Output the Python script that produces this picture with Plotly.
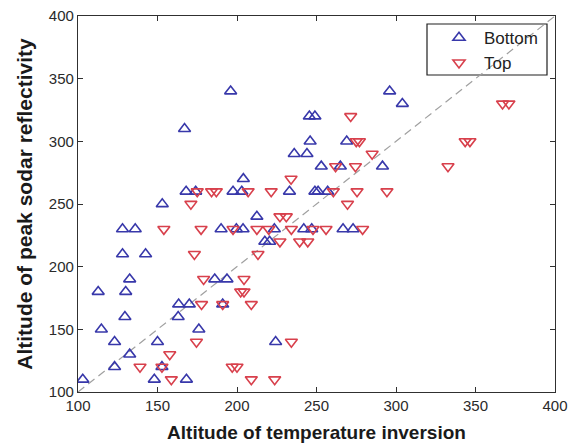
import plotly.graph_objects as go

# Bottom (blue, up-triangles)
bottom_x = [196, 296, 304, 245.5, 249, 167, 246, 269, 236, 244,
            253, 265, 291.5, 204, 168, 174, 197.5, 203, 233, 249,
            251, 257, 153, 212.5, 128, 136, 190, 199.6, 203.8, 223.5,
            242, 247, 266.7, 273, 217.5, 220.5, 128, 142.5, 132.5, 186,
            193.7, 112.7, 130, 163.3, 170, 191, 129.5, 163, 114.7, 176,
            123, 150, 224.3, 132.5, 123, 152.8, 103, 148, 168.2]
bottom_y = [340, 340, 330, 320, 320, 310, 300, 300, 290, 290,
            280, 280, 280, 270, 260, 260, 260, 260, 260, 260,
            260, 260, 250, 240, 230, 230, 230, 230, 230, 230,
            230, 230, 230, 230, 220, 220, 210, 210, 190, 190,
            190, 180, 180, 170, 170, 170, 160, 160, 150, 150,
            140, 140, 140, 130, 120, 120, 110, 110, 110]

# Top (red, down-triangles)
top_x = [367, 371, 271.5, 275, 277, 343.5, 346.5, 285, 262, 274.5,
         332.7, 234, 175, 184, 187, 207, 221.5, 260.6, 275.5, 294.3,
         171, 269.5, 227, 231, 154, 177.4, 197.5, 212.5, 220, 234.2,
         247.8, 256, 279, 227, 239.4, 244.5, 173.2, 213.2, 179, 204.4,
         202.3, 204.4, 177.7, 191, 209, 174.5, 234.2, 157.7, 139, 152.8,
         197, 200, 158.7, 209, 223.7]
top_y = [330, 330, 320, 300, 300, 300, 300, 290, 280, 280,
         280, 270, 260, 260, 260, 260, 260, 260, 260, 260,
         250, 250, 240, 240, 230, 230, 230, 230, 230, 230,
         230, 230, 230, 220, 220, 220, 210, 210, 190, 190,
         180, 180, 170, 170, 170, 140, 140, 130, 120, 120,
         120, 120, 110, 110, 110]

axis_range = [100, 400]
tick_vals = [100, 150, 200, 250, 300, 350, 400]

W, H = 571, 445
L, R, T, B = 78, 16, 16, 53
pw, ph = W - L - R, H - T - B

def px_to_paper(x, y):
    return (x - L) / pw, (H - B - y) / ph

fig = go.Figure()
fig.add_trace(go.Scatter(x=axis_range, y=axis_range, mode="lines",
                         line=dict(color="#a0a0a0", width=1.2, dash="8px,5px"),
                         showlegend=False, hoverinfo="skip"))
fig.add_trace(go.Scatter(x=bottom_x, y=bottom_y, mode="markers", name="Bottom",
                         marker=dict(symbol="triangle-up-open", size=10.5,
                                     color="#3838aa", line=dict(width=1.6, color="#3838aa"))))
fig.add_trace(go.Scatter(x=top_x, y=top_y, mode="markers", name="Top",
                         marker=dict(symbol="triangle-down-open", size=10.5,
                                     color="#d8404c", line=dict(width=1.6, color="#d8404c"))))

x0, y0 = px_to_paper(427, 75)
x1, y1 = px_to_paper(547, 24)
fig.add_shape(type="rect", xref="paper", yref="paper", x0=x0, y0=y0, x1=x1, y1=y1,
              line=dict(color="#202020", width=1.2), fillcolor="white", layer="below")

lx, ly = px_to_paper(434, 20)
fig.update_layout(
    width=W, height=H,
    margin=dict(l=L, r=R, t=T, b=B, autoexpand=False),
    paper_bgcolor="white", plot_bgcolor="white",
    font=dict(family="Arial, Liberation Sans, sans-serif", color="#1a1a1a"),
    legend=dict(x=lx, y=ly, xanchor="left", yanchor="top",
                bgcolor="rgba(0,0,0,0)", borderwidth=0, tracegroupgap=0,
                font=dict(size=17, color="#222"), itemwidth=40),
    xaxis=dict(range=axis_range, tickvals=tick_vals, ticks="inside", ticklen=5,
               tickcolor="#303030", showline=True, linecolor="#303030", linewidth=1.2,
               mirror="ticks", showgrid=False, zeroline=False, automargin=False,
               tickfont=dict(size=15, color="#2a2a2a"),
               title=dict(text="<b>Altitude of temperature inversion</b>",
                          font=dict(size=19, color="#1a1a1a"), standoff=12)),
    yaxis=dict(range=axis_range, tickvals=tick_vals, ticks="inside", ticklen=5,
               tickcolor="#303030", showline=True, linecolor="#303030", linewidth=1.2,
               mirror="ticks", showgrid=False, zeroline=False, automargin=False,
               tickfont=dict(size=15, color="#2a2a2a"),
               title=dict(text="<b>Altitude of peak sodar reflectivity</b>",
                          font=dict(size=21, color="#1a1a1a"), standoff=10)),
)
fig.write_html("out.html")
